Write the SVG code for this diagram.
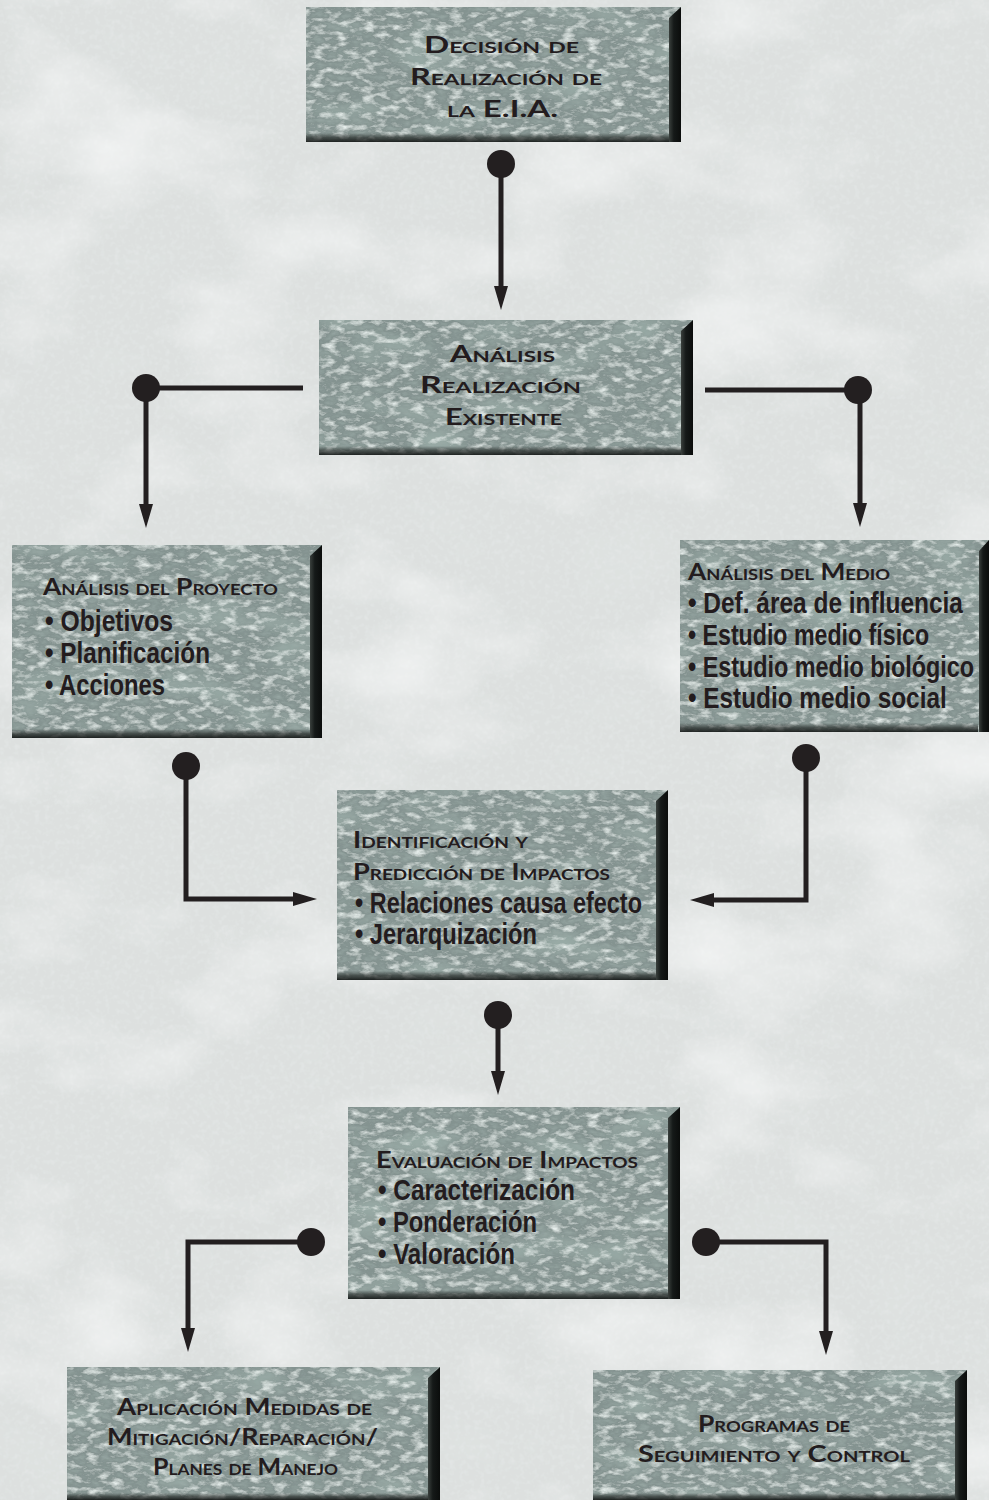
<svg xmlns="http://www.w3.org/2000/svg" width="989" height="1500" viewBox="0 0 989 1500">
<defs>
<style>
.hd{font-family:"Lato","Liberation Sans",sans-serif;font-weight:bold;font-size:23px;font-variant:small-caps;fill:#231c1e}
.bl{font-family:"Liberation Sans",sans-serif;font-weight:bold;font-size:30px;fill:#231c1e}
.conn{fill:none;stroke:#231f20;stroke-width:5;stroke-linejoin:miter}
.dot{fill:#231f20}
.base{fill:#849390}
</style>
<filter id="stoneTex" x="0" y="0" width="1" height="1">
<feTurbulence type="fractalNoise" baseFrequency="0.08 0.16" numOctaves="4" seed="7" result="n"/>
<feColorMatrix in="n" type="matrix" values="0 0 0 0 0.8 0 0 0 0 0.86 0 0 0 0 0.84 2.4 0 0 0 -1.15" result="light"/>
<feColorMatrix in="n" type="matrix" values="0 0 0 0 0.32 0 0 0 0 0.4 0 0 0 0 0.38 -2.4 0 0 0 1.05" result="dark"/>
<feTurbulence type="fractalNoise" baseFrequency="0.015 0.03" numOctaves="2" seed="11" result="m"/>
<feColorMatrix in="m" type="matrix" values="0 0 0 0 0.35 0 0 0 0 0.45 0 0 0 0 0.42 -2 0 0 0 1.0" result="patch"/>
<feMerge><feMergeNode in="SourceGraphic"/><feMergeNode in="patch"/><feMergeNode in="dark"/><feMergeNode in="light"/></feMerge>
</filter>
<filter id="bgTex" x="0" y="0" width="1" height="1">
<feTurbulence type="fractalNoise" baseFrequency="0.006 0.01" numOctaves="4" seed="3" result="n"/>
<feColorMatrix in="n" type="matrix" values="0 0 0 0 0.97 0 0 0 0 0.98 0 0 0 0 0.98 1.4 0 0 0 -0.68" result="light"/>
<feColorMatrix in="n" type="matrix" values="0 0 0 0 0.76 0 0 0 0 0.79 0 0 0 0 0.78 -1.2 0 0 0 0.5" result="dark"/>
<feTurbulence type="fractalNoise" baseFrequency="0.2" numOctaves="2" seed="5" result="f"/>
<feColorMatrix in="f" type="matrix" values="0 0 0 0 0.8 0 0 0 0 0.82 0 0 0 0 0.82 -1.2 0 0 0 0.65" result="fine"/>
<feMerge><feMergeNode in="SourceGraphic"/><feMergeNode in="dark"/><feMergeNode in="fine"/><feMergeNode in="light"/></feMerge>
</filter>
<linearGradient id="rg" x1="0" y1="0" x2="1" y2="0">
<stop offset="0" stop-color="#3a403d"/><stop offset="0.4" stop-color="#151918"/><stop offset="1" stop-color="#0b0d0c"/>
</linearGradient>
<linearGradient id="bg" x1="0" y1="0" x2="0" y2="1">
<stop offset="0" stop-color="#1a1e1c" stop-opacity="0"/><stop offset="0.5" stop-color="#1a1e1c" stop-opacity="0.6"/><stop offset="1" stop-color="#111413" stop-opacity="0.9"/>
</linearGradient>
<marker id="ah" markerUnits="userSpaceOnUse" markerWidth="26" markerHeight="16" viewBox="0 0 26 16" refX="2" refY="7" orient="auto">
<path d="M0,0 L24,7 L0,14 Z" fill="#231f20"/>
</marker>
</defs>

<rect x="0" y="0" width="989" height="1500" fill="#dde0df" filter="url(#bgTex)"/>

<g id="connectors">
<path class="conn" d="M501,164 V288" marker-end="url(#ah)"/>
<circle class="dot" cx="501" cy="164" r="14"/>
<path class="conn" d="M303,388 H146 V506" marker-end="url(#ah)"/>
<circle class="dot" cx="146" cy="388" r="14"/>
<path class="conn" d="M705,390 H860 V505" marker-end="url(#ah)"/>
<circle class="dot" cx="858" cy="390" r="14"/>
<path class="conn" d="M186,766 V899 H295" marker-end="url(#ah)"/>
<circle class="dot" cx="186" cy="766" r="14"/>
<path class="conn" d="M806,758 V900 H712" marker-end="url(#ah)"/>
<circle class="dot" cx="806" cy="758" r="14"/>
<path class="conn" d="M498,1015 V1073" marker-end="url(#ah)"/>
<circle class="dot" cx="498" cy="1015" r="14"/>
<path class="conn" d="M311,1242 H188 V1330" marker-end="url(#ah)"/>
<circle class="dot" cx="311" cy="1242" r="14"/>
<path class="conn" d="M706,1242 H826 V1333" marker-end="url(#ah)"/>
<circle class="dot" cx="706" cy="1242" r="14"/>
</g>

<g id="n1">
<rect class="base" x="306" y="7" width="375" height="135" filter="url(#stoneTex)"/>
<rect x="306" y="133" width="363" height="9" fill="url(#bg)"/>
<polygon points="669,18 681,7 681,142 669,142" fill="url(#rg)"/>
<text class="hd" x="424" y="53" textLength="155" lengthAdjust="spacingAndGlyphs">Decisión de</text>
<text class="hd" x="410" y="85" textLength="192" lengthAdjust="spacingAndGlyphs">Realización de</text>
<text class="hd" x="447" y="117" textLength="111" lengthAdjust="spacingAndGlyphs">la E.I.A.</text>
</g>

<g id="n2">
<rect class="base" x="319" y="320" width="374" height="135" filter="url(#stoneTex)"/>
<rect x="319" y="446" width="362" height="9" fill="url(#bg)"/>
<polygon points="681,331 693,320 693,455 681,455" fill="url(#rg)"/>
<text class="hd" x="450" y="362" textLength="105" lengthAdjust="spacingAndGlyphs">Análisis</text>
<text class="hd" x="420" y="393" textLength="161" lengthAdjust="spacingAndGlyphs">Realización</text>
<text class="hd" x="445" y="425" textLength="117" lengthAdjust="spacingAndGlyphs">Existente</text>
</g>

<g id="n3">
<rect class="base" x="12" y="545" width="310" height="193" filter="url(#stoneTex)"/>
<rect x="12" y="729" width="298" height="9" fill="url(#bg)"/>
<polygon points="310,556 322,545 322,738 310,738" fill="url(#rg)"/>
<text class="hd" x="43" y="595" textLength="235" lengthAdjust="spacingAndGlyphs">Análisis del Proyecto</text>
<text class="bl" x="45" y="631" textLength="128" lengthAdjust="spacingAndGlyphs">• Objetivos</text>
<text class="bl" x="45" y="663" textLength="165" lengthAdjust="spacingAndGlyphs">• Planificación</text>
<text class="bl" x="45" y="695" textLength="120" lengthAdjust="spacingAndGlyphs">• Acciones</text>
</g>

<g id="n4">
<rect class="base" x="680" y="540" width="309" height="192" filter="url(#stoneTex)"/>
<rect x="680" y="723" width="298" height="9" fill="url(#bg)"/>
<polygon points="979,551 989,540 989,732 979,732" fill="url(#rg)"/>
<text class="hd" x="688" y="580" textLength="202" lengthAdjust="spacingAndGlyphs">Análisis del Medio</text>
<text class="bl" transform="translate(688,613) scale(0.65,1)" x="0" y="0" textLength="423" lengthAdjust="spacingAndGlyphs">• Def. área de influencia</text>
<text class="bl" transform="translate(688,645) scale(0.65,1)" x="0" y="0" textLength="371" lengthAdjust="spacingAndGlyphs">• Estudio medio físico</text>
<text class="bl" transform="translate(688,677) scale(0.65,1)" x="0" y="0" textLength="440" lengthAdjust="spacingAndGlyphs">• Estudio medio biológico</text>
<text class="bl" transform="translate(688,708) scale(0.65,1)" x="0" y="0" textLength="398" lengthAdjust="spacingAndGlyphs">• Estudio medio social</text>
</g>

<g id="n5">
<rect class="base" x="337" y="790" width="331" height="190" filter="url(#stoneTex)"/>
<rect x="337" y="971" width="319" height="9" fill="url(#bg)"/>
<polygon points="656,801 668,790 668,980 656,980" fill="url(#rg)"/>
<text class="hd" x="353" y="848" textLength="175" lengthAdjust="spacingAndGlyphs">Identificación y</text>
<text class="hd" x="353" y="880" textLength="257" lengthAdjust="spacingAndGlyphs">Predicción de Impactos</text>
<text class="bl" x="355" y="913" textLength="287" lengthAdjust="spacingAndGlyphs">• Relaciones causa efecto</text>
<text class="bl" x="355" y="944" textLength="182" lengthAdjust="spacingAndGlyphs">• Jerarquización</text>
</g>

<g id="n6">
<rect class="base" x="348" y="1107" width="332" height="192" filter="url(#stoneTex)"/>
<rect x="348" y="1290" width="320" height="9" fill="url(#bg)"/>
<polygon points="668,1118 680,1107 680,1299 668,1299" fill="url(#rg)"/>
<text class="hd" x="376" y="1168" textLength="262" lengthAdjust="spacingAndGlyphs">Evaluación de Impactos</text>
<text class="bl" x="378" y="1200" textLength="197" lengthAdjust="spacingAndGlyphs">• Caracterización</text>
<text class="bl" x="378" y="1232" textLength="159" lengthAdjust="spacingAndGlyphs">• Ponderación</text>
<text class="bl" x="378" y="1264" textLength="137" lengthAdjust="spacingAndGlyphs">• Valoración</text>
</g>

<g id="n7">
<rect class="base" x="67" y="1367" width="373" height="133" filter="url(#stoneTex)"/>
<rect x="67" y="1493" width="361" height="7" fill="url(#bg)"/>
<polygon points="428,1378 440,1367 440,1500 428,1500" fill="url(#rg)"/>
<text class="hd" x="117" y="1415" textLength="255" lengthAdjust="spacingAndGlyphs">Aplicación Medidas de</text>
<text class="hd" x="107" y="1445" textLength="271" lengthAdjust="spacingAndGlyphs">Mitigación/Reparación/</text>
<text class="hd" x="153" y="1475" textLength="185" lengthAdjust="spacingAndGlyphs">Planes de Manejo</text>
</g>

<g id="n8">
<rect class="base" x="593" y="1370" width="374" height="130" filter="url(#stoneTex)"/>
<rect x="593" y="1493" width="362" height="7" fill="url(#bg)"/>
<polygon points="955,1381 967,1370 967,1500 955,1500" fill="url(#rg)"/>
<text class="hd" x="698" y="1432" textLength="152" lengthAdjust="spacingAndGlyphs">Programas de</text>
<text class="hd" x="638" y="1462" textLength="272" lengthAdjust="spacingAndGlyphs">Seguimiento y Control</text>
</g>
</svg>
